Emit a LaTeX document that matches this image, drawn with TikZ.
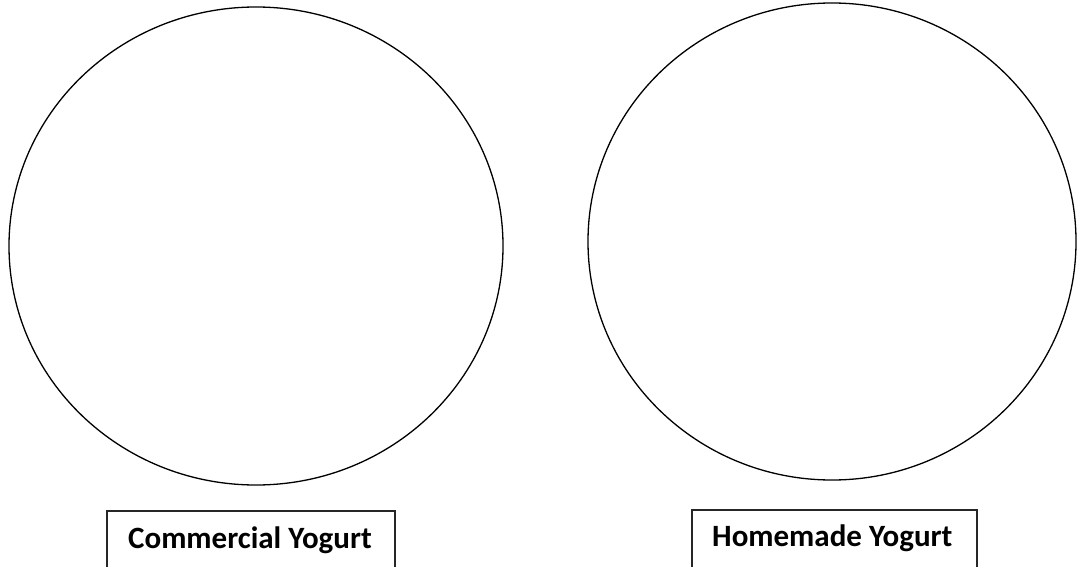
\documentclass[tikz,border=0pt]{standalone}
\usepackage{fontspec}
\setmainfont{Carlito}
\begin{document}
\begin{tikzpicture}[x=1pt,y=-1pt,
  ring/.style={draw=black,line width=1.3pt},
  labelbox/.style={draw=black!85,line width=1.3pt},
  labeltext/.style={font=\fontsize{31}{36}\selectfont\bfseries,anchor=base west,inner sep=0pt}]
\useasboundingbox (0,0) rectangle (1078,567);
\clip (0,0) rectangle (1078,567);
\draw[ring] (256,246) ellipse [x radius=247, y radius=239];
\draw[ring] (832,241.5) ellipse [x radius=244, y radius=238.5];
\draw[labelbox] (107,511) rectangle (395,590);
\draw[labelbox] (692,510) rectangle (977,590);
\node[labeltext] (t1) at (128,548) {Commercial Yogurt};
\node[labeltext] (t2) at (712,546) {Homemade Yogurt};
\end{tikzpicture}
\end{document}
